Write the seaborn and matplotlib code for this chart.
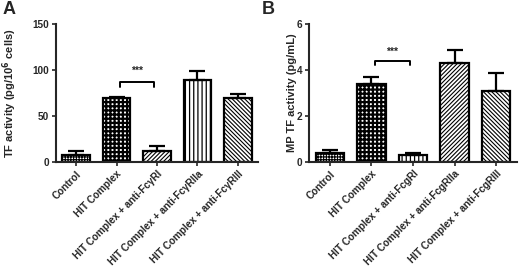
import matplotlib
matplotlib.use("Agg")
import matplotlib.pyplot as plt
import seaborn as sns
import pandas as pd
import numpy as np

# ---- data ----
labels_a = ["Control", "HIT Complex", "HIT Complex + anti-Fc\u03b3RI",
            "HIT Complex + anti-Fc\u03b3RIIa", "HIT Complex + anti-Fc\u03b3RIII"]
values_a = [8, 70, 12, 89, 70]
errors_a = [4, 1, 5, 10, 3.5]

labels_b = ["Control", "HIT Complex", "HIT Complex + anti-FcgRI",
            "HIT Complex + anti-FcgRIIa", "HIT Complex + anti-FcgRIII"]
values_b = [0.4, 3.4, 0.3, 4.3, 3.1]
errors_b = [0.13, 0.3, 0.07, 0.55, 0.77]

yticks_a = [0, 50, 100, 150]
yticks_b = [0, 2, 4, 6]

hatches_a = ["++++++", "++++", "////////", "||||", "\\\\\\\\\\\\\\\\"]
hatches_b = ["++++++", "++++", "||||", "////////", "\\\\\\\\\\\\\\\\"]

sns.set_theme(style="ticks")
plt.rcParams['font.family'] = ['Liberation Sans', 'DejaVu Sans']
plt.rcParams['font.weight'] = 'bold'
plt.rcParams['hatch.linewidth'] = 1.0

fig = plt.figure(figsize=(5.2, 2.74), dpi=100)
W, H = 520, 274


def panel(rect, labels, values, errors, hatches, yticks, ylabel, ylsize, ylx, sig_y,
          panel_letter, letter_x):
    l, r, t, b = rect
    ax = fig.add_axes([l / W, 1 - b / H, (r - l) / W, (b - t) / H])
    df = pd.DataFrame({"cat": labels, "val": values})
    sns.barplot(data=df, x="cat", y="val", ax=ax, color="white", edgecolor="black",
                linewidth=1.6, width=0.68, errorbar=None, saturation=1)
    for p, h in zip(ax.patches, hatches):
        p.set_hatch(h)
        p.set_facecolor("white")
        p.set_edgecolor("black")
        if h == "++++":
            lw = 1.6
        elif "|" in h:
            lw = 0.9
        else:
            lw = 0.8
        try:
            p.set_hatch_linewidth(lw)
        except Exception:
            pass
    ax.errorbar(x=np.arange(len(values)), y=values,
                yerr=[np.zeros(len(errors)), errors], fmt="none",
                ecolor="black", elinewidth=1.6, capsize=5.5, capthick=1.6, zorder=1)
    ax.set_xlim(-0.5, len(values) - 0.5)
    ax.set_ylim(yticks[0], yticks[-1])
    ax.set_yticks(yticks)
    ax.set_xlabel("")
    ax.set_ylabel(ylabel, fontsize=ylsize, fontweight="bold")
    ax.yaxis.set_label_coords(ylx, 0.5)
    ax.set_xticks(range(len(labels)))
    ax.set_xticklabels(labels, rotation=45, ha="right", rotation_mode="anchor",
                       fontsize=7.2, fontweight="bold")
    ax.tick_params(axis="both", length=3, width=1.2, pad=2, labelsize=7.2)
    for s in ["top", "right"]:
        ax.spines[s].set_visible(False)
    for s in ["left", "bottom"]:
        ax.spines[s].set_linewidth(1.5)
    # significance bracket
    y0, y1, yt = sig_y
    ax.plot([1.08, 1.08, 1.92, 1.92], [y0, y1, y1, y0], color="black", lw=1.4)
    ax.text(1.5, yt, "***", ha="center", va="center", fontsize=7.5, fontweight="bold")
    fig.text(letter_x / W, 1 - 10 / H, panel_letter, fontsize=13, fontweight="bold",
             ha="left", va="center")
    return ax


panel((56, 258, 24, 162), labels_a, values_a, errors_a, hatches_a, yticks_a,
      "TF activity (pg/10$^{\\mathbf{6}}$ cells)", 8, -0.185, (82, 86.6, 99), "A", 3)
panel((309, 517, 24, 162), labels_b, values_b, errors_b, hatches_b, yticks_b,
      "MP TF activity (pg/mL)", 8, -0.058, (4.2, 4.4, 4.8), "B", 262)

fig.savefig("out.png", dpi=100)
